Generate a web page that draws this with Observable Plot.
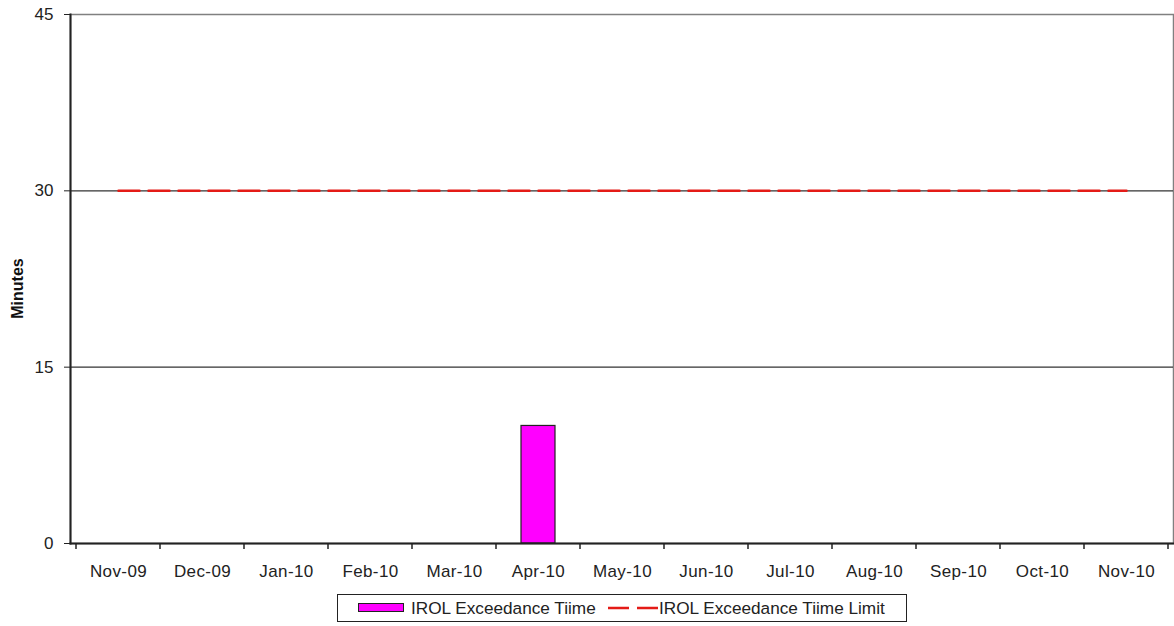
<!DOCTYPE html>
<html>
<head>
<meta charset="utf-8">
<script src="https://cdn.jsdelivr.net/npm/d3@7"></script>
<script src="https://cdn.jsdelivr.net/npm/@observablehq/plot@0.6"></script>
<style>
  html, body { margin: 0; padding: 0; background: #fff; }
  #wrap { position: relative; width: 1174px; height: 626px; font-family: "Liberation Sans", Arial, sans-serif; }
  #legend { position: absolute; left: 337px; top: 594px; width: 570px; height: 28px; border: 1px solid #222; box-sizing: border-box; font-size: 17.2px; color: #222; }
  #legend > * { position: absolute; }
  .sw-bar { left: 20px; top: 8px; width: 46px; height: 9px; background: #ff00ff; border: 1px solid #222; box-sizing: border-box; }
  .t1 { left: 73px; top: 3px; }
  .sw-line { left: 270px; top: 8px; }
  .t2 { left: 321px; top: 3px; }
</style>
</head>
<body>
<div id="wrap"></div>
<script>
const months = ["Nov-09","Dec-09","Jan-10","Feb-10","Mar-10","Apr-10","May-10","Jun-10","Jul-10","Aug-10","Sep-10","Oct-10","Nov-10"];
const exceedance = [0,0,0,0,0,10,0,0,0,0,0,0,0];
const limit = [30,30,30,30,30,30,30,30,30,30,30,30,30];
const yTicks = [0,15,30,45];
const seriesNames = ["IROL Exceedance Tiime", "IROL Exceedance Tiime Limit"];

const barData = months.map((m, i) => ({month: m, value: exceedance[i]})).filter(d => d.value > 0);
const lineData = months.map((m, i) => ({month: m, value: limit[i]}));

const plot = Plot.plot({
  width: 1174,
  height: 590,
  marginLeft: 70,
  marginRight: 1,
  marginTop: 14,
  marginBottom: 47,
  style: {fontFamily: "'Liberation Sans', Arial, sans-serif", fontSize: "17px", color: "#222", background: "#fff"},
  x: {type: "band", domain: months, paddingInner: 0, paddingOuter: 0, label: null},
  y: {domain: [0, 45], ticks: yTicks, label: null},
  marks: [
    Plot.frame({stroke: "#808080", strokeWidth: 1.5}),
    Plot.ruleY([15, 30], {stroke: "#333", strokeWidth: 1.3}),
    Plot.barY(barData, {x: "month", y: "value", fill: "#ff00ff", stroke: "#222", strokeWidth: 1.2, insetLeft: 25, insetRight: 25}),
    Plot.line(lineData, {x: "month", y: "value", stroke: "#e41b17", strokeWidth: 2.5, strokeDasharray: "21,9"}),
    Plot.frame({anchor: "left", stroke: "#222", strokeWidth: 2}),
    Plot.frame({anchor: "bottom", stroke: "#222", strokeWidth: 2}),
    Plot.axisY({ticks: yTicks, tickSize: 6, tickPadding: 11, tickFormat: d3.format("d"), label: null, stroke: "#222", fontSize: 17}),
    Plot.axisX({tickSize: 0, tickPadding: 21, label: null, fontSize: 17})
  ]
});

// boundary tick marks below the x axis (Excel style), from the plot's band scale
const xs = plot.scale("x");
const ysc = plot.scale("y");
const y0 = ysc.apply(0);
const svg = d3.select(plot);
const edges = months.map(m => xs.apply(m)).concat([xs.apply(months[months.length - 1]) + xs.bandwidth]);
svg.append("g").selectAll("line").data(edges).join("line")
  .attr("x1", d => d).attr("x2", d => d)
  .attr("y1", y0).attr("y2", y0 + 6)
  .attr("stroke", "#222").attr("stroke-width", 1.5);

svg.selectAll("[aria-label='x-axis tick label'] text").attr("letter-spacing", "0.4px");

const wrap = document.getElementById("wrap");
wrap.appendChild(plot);

// y-axis title
svg.append("text")
  .attr("transform", `translate(23, ${(ysc.apply(0) + ysc.apply(45)) / 2 + 10}) rotate(-90)`)
  .attr("text-anchor", "middle")
  .attr("font-weight", "bold")
  .attr("font-size", "16px")
  .attr("fill", "#111")
  .text("Minutes");

// legend
const legend = document.createElement("div");
legend.id = "legend";
legend.innerHTML = `<span class="sw-bar"></span><span class="t1">${seriesNames[0]}</span>` +
  `<svg class="sw-line" width="50" height="10"><line x1="0" y1="5" x2="50" y2="5" stroke="#e41b17" stroke-width="2.5" stroke-dasharray="21,8"/></svg><span class="t2">${seriesNames[1]}</span>`;
wrap.appendChild(legend);
</script>
</body>
</html>
